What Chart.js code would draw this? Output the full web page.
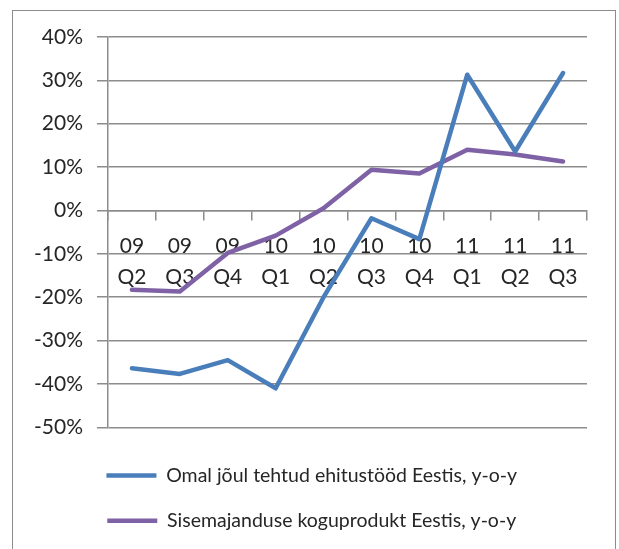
<!DOCTYPE html>
<html>
<head>
<meta charset="utf-8">
<script src="https://cdn.jsdelivr.net/npm/chart.js@4"></script>
<style>
  html, body { margin: 0; padding: 0; background: #fff; overflow: hidden; }
  #frame {
    position: absolute; left: 12px; top: 10px; width: 602px; height: 560px;
    border: 1px solid #8c8c8c; border-bottom: none;
  }
  #chart { position: absolute; left: 0; top: 0; }
</style>
</head>
<body>
<div id="frame"></div>
<canvas id="chart" width="619" height="549"></canvas>
<script>
// quarters shown on the x axis (year on line 1, quarter on line 2)
const years = ['09', '09', '09', '10', '10', '10', '10', '11', '11', '11'];
const quarters = ['Q2', 'Q3', 'Q4', 'Q1', 'Q2', 'Q3', 'Q4', 'Q1', 'Q2', 'Q3'];

// y-o-y change, %
const construction = [-36.4, -37.7, -34.5, -41.0, -20.0, -1.8, -6.6, 31.3, 13.6, 31.7];
const gdp = [-18.3, -18.7, -9.8, -5.8, 0.5, 9.4, 8.5, 14.0, 12.9, 11.3];

const seriesNames = [
  'Omal jõul tehtud ehitustööd Eestis, y-o-y',
  'Sisemajanduse koguprodukt Eestis, y-o-y'
];

const yMin = -50;
const yMax = 40;
const yStep = 10;

window.addEventListener('load', function() {
  const gridColor = '#8c8c8c';
  const textColor = '#262626';
  const family = 'Lato, "Open Sans", sans-serif';

  // two-line category labels
  const labels = years.map((y, i) => [y, quarters[i]]);

  const ctx = document.getElementById('chart').getContext('2d');
  new Chart(ctx, {
    type: 'line',
    data: {
      labels: labels,
      datasets: [
        {
          label: seriesNames[0],
          data: construction,
          borderColor: '#4a7ebb',
          backgroundColor: '#4a7ebb',
          borderWidth: 4.5,
          borderCapStyle: 'round',
          borderJoinStyle: 'round',
          pointRadius: 0,
          tension: 0
        },
        {
          label: seriesNames[1],
          data: gdp,
          borderColor: '#7f62a6',
          backgroundColor: '#7f62a6',
          borderWidth: 4.5,
          borderCapStyle: 'round',
          borderJoinStyle: 'round',
          pointRadius: 0,
          tension: 0
        }
      ]
    },
    options: {
      responsive: false,
      animation: false,
      layout: {
        padding: { left: 20, right: 15.5, top: 37, bottom: 8.5 }
      },
      scales: {
        x: {
          position: { y: 0 },
          offset: true,
          grid: {
            drawOnChartArea: false,
            offset: true,
            tickLength: 9,
            color: gridColor,
            lineWidth: 1.5
          },
          border: { color: gridColor, width: 1.5 },
          ticks: {
            padding: 11,
            maxRotation: 0,
            autoSkip: false,
            color: textColor,
            font: { family: family, size: 21, lineHeight: 1.49 }
          }
        },
        y: {
          min: yMin,
          max: yMax,
          afterFit: (scale) => { scale.width = 88; },
          grid: { color: gridColor, lineWidth: 1.5, tickLength: 11 },
          border: { color: gridColor, width: 1.5 },
          ticks: {
            stepSize: yStep,
            padding: 14,
            color: textColor,
            font: { family: family, size: 21 },
            callback: (v) => v + '%'
          }
        },
        // empty right-hand spacer so the plot ends where the original does
        spacer: {
          type: 'linear',
          axis: 'y',
          position: 'right',
          grid: { display: false },
          border: { display: false },
          ticks: { display: false },
          afterFit: (scale) => { scale.width = 16.5; }
        }
      },
      plugins: {
        tooltip: { enabled: false },
        legend: {
          position: 'bottom',
          align: 'center',
          // empty title only pushes the rows down a little
          title: { display: true, text: '', padding: 0, font: { size: 12.6, lineHeight: 1 } },
          labels: {
            usePointStyle: true,
            pointStyle: 'line',
            pointStyleWidth: 50,
            padding: 25.8,
            color: textColor,
            font: { family: family, size: 19.5 }
          }
        }
      }
    }
  });
});
</script>
</body>
</html>
